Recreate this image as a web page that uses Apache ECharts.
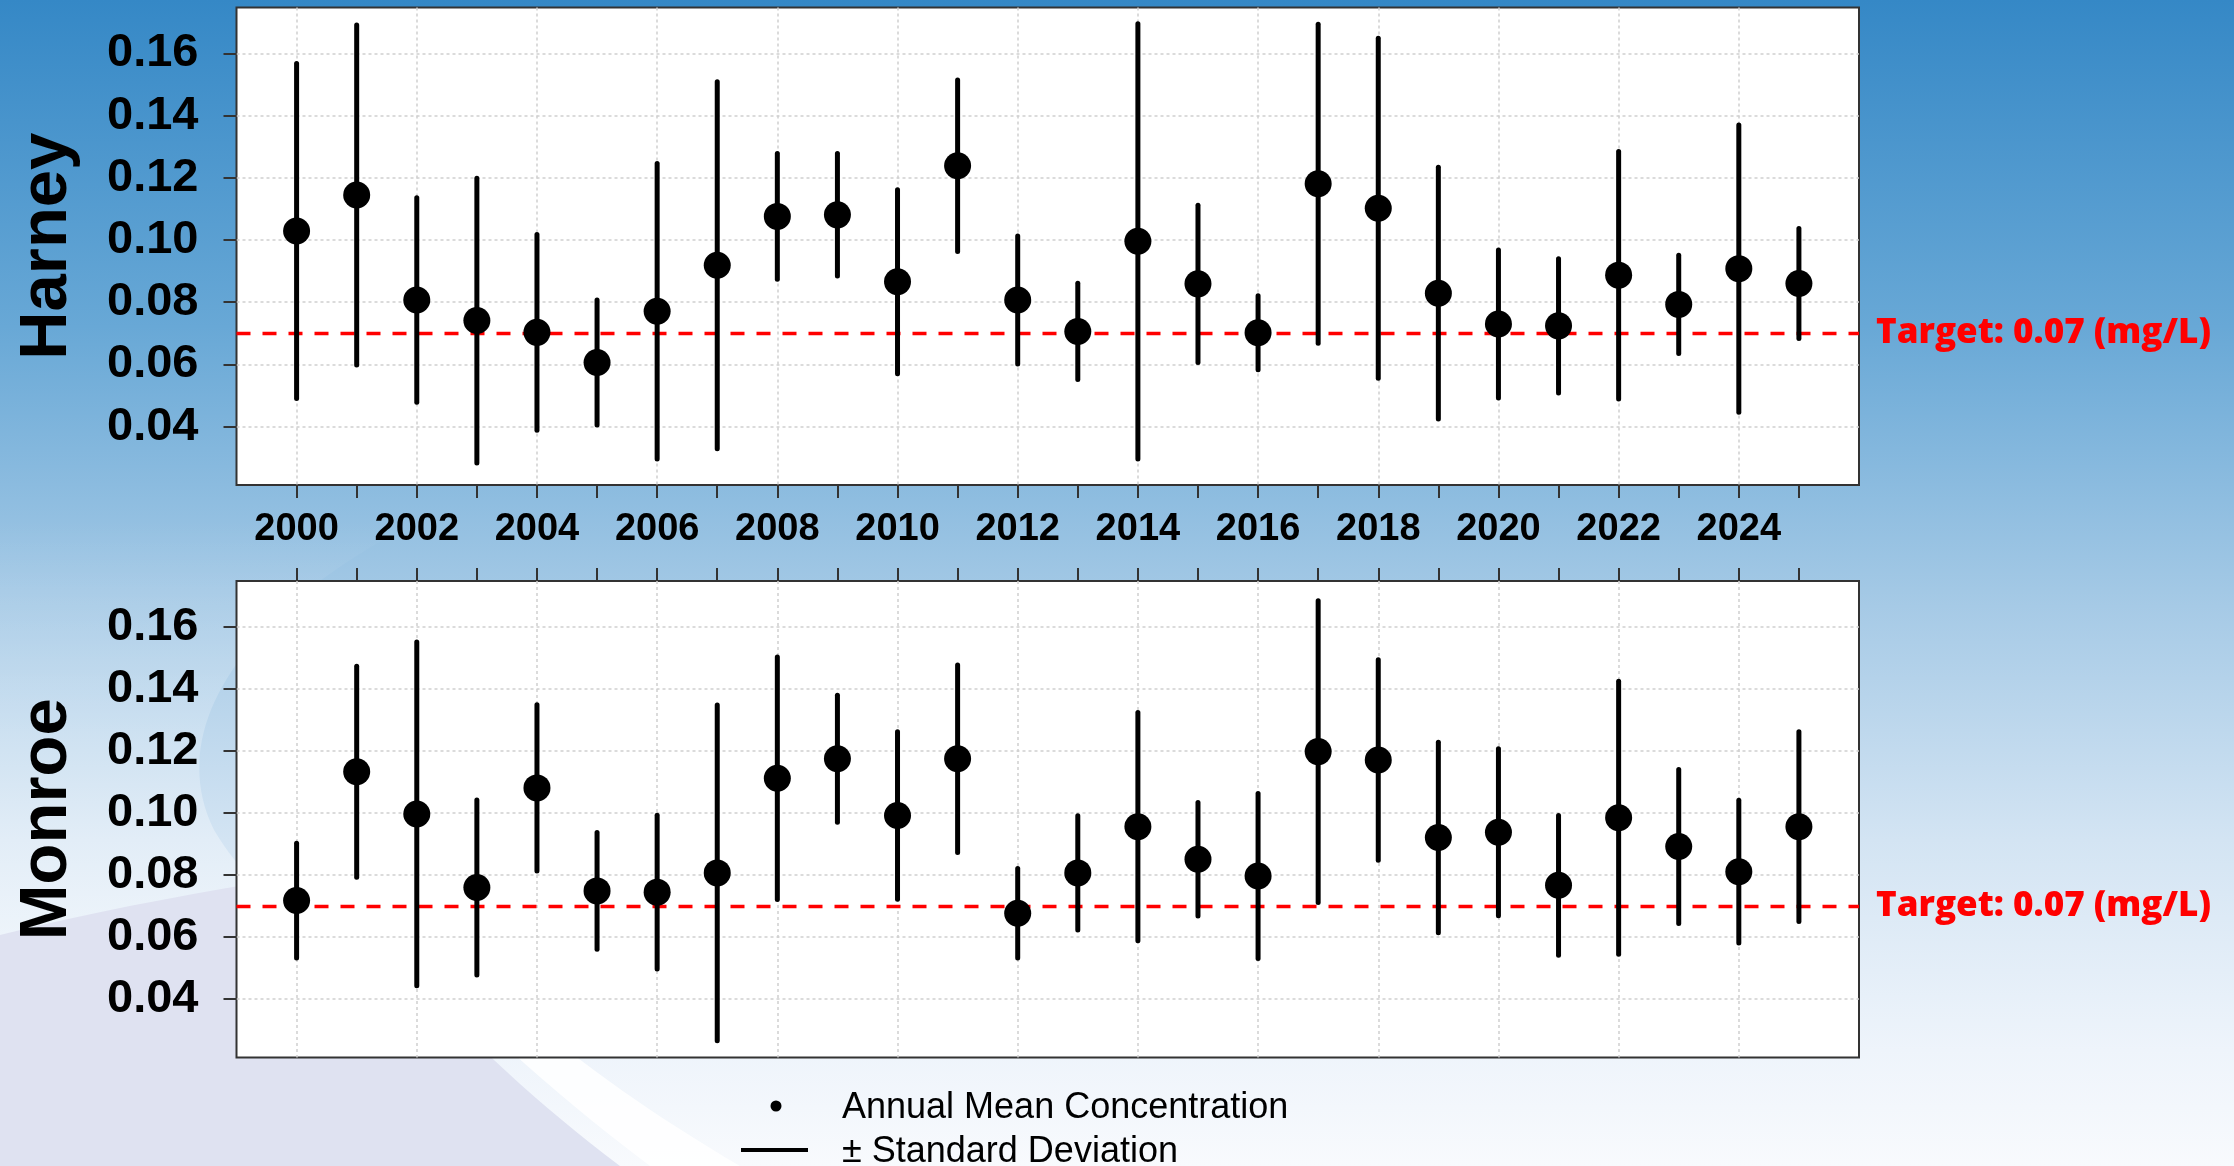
<!DOCTYPE html>
<html>
<head>
<meta charset="utf-8">
<script src="https://cdn.jsdelivr.net/npm/echarts@6/dist/echarts.min.js"></script>
<style>
  html, body { margin: 0; padding: 0; width: 2234px; height: 1166px; overflow: hidden; }
  #bg, #chart { position: absolute; left: 0; top: 0; width: 2234px; height: 1166px; }
</style>
</head>
<body>
<!-- slide backdrop -->
<svg id="bg" width="2234" height="1166" viewBox="0 0 2234 1166">
  <defs>
    <linearGradient id="sky" x1="0" y1="0" x2="0" y2="1">
      <stop offset="0" stop-color="#3588c6"/>
      <stop offset="0.28" stop-color="#68a8d6"/>
      <stop offset="0.52" stop-color="#a6cae6"/>
      <stop offset="0.72" stop-color="#d3e4f3"/>
      <stop offset="0.9" stop-color="#eef4fb"/>
      <stop offset="1" stop-color="#f8fafd"/>
    </linearGradient>
    <linearGradient id="glow" x1="0" y1="0" x2="0" y2="1">
      <stop offset="0" stop-color="#ffffff" stop-opacity="0"/>
      <stop offset="1" stop-color="#ffffff" stop-opacity="0.45"/>
    </linearGradient>
  </defs>
  <rect width="2234" height="1166" fill="url(#sky)"/>
  <path d="M420,520 C260,600 160,720 214,830 C250,890 300,930 340,870 L340,940 L0,940 L0,520 Z" fill="url(#glow)"/>
  <path d="M0,935 C120,905 240,885 340,870 C390,960 480,1060 620,1166 L0,1166 Z" fill="#dfe2f1"/>
  <path d="M340,870 C410,960 510,1060 650,1166 L740,1166 C560,1060 450,960 400,860 Z" fill="#ffffff" opacity="0.85"/>
</svg>
<div id="chart"></div>
<script>
// Annual mean concentration (mg/L) and standard deviation, 2000-2025
const years = [2000, 2001, 2002, 2003, 2004, 2005, 2006, 2007, 2008, 2009, 2010, 2011, 2012,
               2013, 2014, 2015, 2016, 2017, 2018, 2019, 2020, 2021, 2022, 2023, 2024, 2025];
const yearLabels = [2000, 2002, 2004, 2006, 2008, 2010, 2012, 2014, 2016, 2018, 2020, 2022, 2024];
const concTicks = [0.04, 0.06, 0.08, 0.10, 0.12, 0.14, 0.16];
const targetValue = 0.07;

const harneyMean = [0.1029, 0.1145, 0.0807, 0.0741, 0.0703, 0.0606, 0.0771, 0.0919, 0.1076, 0.1081,
                    0.0866, 0.1239, 0.0807, 0.0706, 0.0996, 0.0859, 0.0702, 0.1181, 0.1102, 0.0829,
                    0.0730, 0.0724, 0.0887, 0.0793, 0.0908, 0.0860];
const harneySd   = [0.0539, 0.0547, 0.0329, 0.0458, 0.0315, 0.0201, 0.0475, 0.0590, 0.0202, 0.0197,
                    0.0296, 0.0276, 0.0206, 0.0155, 0.0700, 0.0253, 0.0119, 0.0513, 0.0547, 0.0405,
                    0.0238, 0.0216, 0.0398, 0.0158, 0.0462, 0.0177];

const monroeMean = [0.0718, 0.1133, 0.0997, 0.0760, 0.1081, 0.0749, 0.0745, 0.0807, 0.1112, 0.1175,
                    0.0992, 0.1175, 0.0677, 0.0807, 0.0956, 0.0851, 0.0797, 0.1198, 0.1171, 0.0921,
                    0.0938, 0.0767, 0.0985, 0.0892, 0.0811, 0.0956];
const monroeSd   = [0.0185, 0.0340, 0.0554, 0.0282, 0.0268, 0.0188, 0.0248, 0.0541, 0.0391, 0.0205,
                    0.0270, 0.0302, 0.0144, 0.0184, 0.0368, 0.0183, 0.0266, 0.0486, 0.0323, 0.0307,
                    0.0269, 0.0225, 0.0440, 0.0248, 0.0230, 0.0306];

const panels = [
  { name: 'Harney', mean: harneyMean, sd: harneySd },
  { name: 'Monroe', mean: monroeMean, sd: monroeSd }
];

const AXIS_FONT = '"Liberation Sans", Arial, sans-serif';
const Y_MIN = 0.0212, Y_MAX = 0.1748;

const gridLine = { show: true, lineStyle: { color: '#cfcfcf', width: 1.5, type: [3, 3] } };
const tickStyle = { color: '#333', width: 2 };

const grids = [
  { left: 236.5, top: 7.5, width: 1622.5, height: 477.5 },
  { left: 236.5, top: 581, width: 1622.5, height: 476.5 }
].map(g => Object.assign(g, {
  show: true, backgroundColor: '#ffffff', borderColor: '#333333', borderWidth: 2, containLabel: false
}));

const xAxes = [];
const yAxes = [];
const series = [];

panels.forEach((p, k) => {
  // year ticks (labels only under the upper panel, ticks above the lower one)
  xAxes.push({
    gridIndex: k, type: 'value', min: 1999, max: 2026,
    position: k === 0 ? 'bottom' : 'top',
    axisLine: { show: false },
    axisTick: { show: true, inside: false, length: 13, lineStyle: tickStyle, customValues: years },
    axisLabel: {
      show: k === 0, customValues: yearLabels, margin: 26,
      fontFamily: AXIS_FONT, fontWeight: 'bold', fontSize: 38, color: '#000',
      formatter: v => String(v)
    },
    splitLine: { show: false }
  });
  // vertical guide lines at even years
  xAxes.push({
    gridIndex: k, type: 'value', min: 1999, max: 2026,
    position: k === 0 ? 'top' : 'bottom',
    axisLine: { show: false },
    axisTick: { show: false, customValues: yearLabels },
    axisLabel: { show: false },
    splitLine: gridLine
  });
  yAxes.push({
    gridIndex: k, type: 'value', min: Y_MIN, max: Y_MAX,
    axisLine: { show: false },
    axisTick: { show: true, inside: false, length: 13, lineStyle: tickStyle, customValues: concTicks },
    axisLabel: {
      customValues: concTicks, margin: 38, padding: [5, 0, 0, 0],
      fontFamily: AXIS_FONT, fontWeight: 'bold', fontSize: 47, color: '#000',
      formatter: v => v.toFixed(2)
    },
    splitLine: gridLine,
    name: p.name, nameLocation: 'middle', nameRotate: 90, nameGap: 155,
    nameTextStyle: { fontFamily: AXIS_FONT, fontWeight: 'bold', fontSize: 67, color: '#000' }
  });

  // ± standard deviation bars
  series.push({
    type: 'custom', xAxisIndex: 2 * k, yAxisIndex: k, z: 3,
    data: years.map((yr, i) => [yr, p.mean[i] - p.sd[i], p.mean[i] + p.sd[i]]),
    encode: { x: 0, y: [1, 2] },
    renderItem: (params, api) => {
      const lo = api.coord([api.value(0), api.value(1)]);
      const hi = api.coord([api.value(0), api.value(2)]);
      return {
        type: 'line',
        shape: { x1: lo[0], y1: lo[1], x2: hi[0], y2: hi[1] },
        style: { stroke: '#000', lineWidth: 5, lineCap: 'round' }
      };
    }
  });

  // annual means, with the target line
  series.push({
    type: 'scatter', xAxisIndex: 2 * k, yAxisIndex: k, z: 4,
    symbol: 'circle', symbolSize: 27,
    itemStyle: { color: '#000', opacity: 1 },
    data: years.map((yr, i) => [yr, p.mean[i]]),
    markLine: {
      silent: true, symbol: 'none', z: 2,
      lineStyle: { color: '#ff0000', width: 3.3, type: [14, 12] },
      label: {
        show: true, position: 'end', distance: 17,
        formatter: 'Target: ' + targetValue.toFixed(2) + ' (mg/L)',
        fontFamily: '"Open Sans", "Noto Sans", sans-serif', fontWeight: 800, fontSize: 35, color: '#ff0000'
      },
      data: [{ yAxis: targetValue }]
    }
  });
});

const chart = echarts.init(document.getElementById('chart'), null, { renderer: 'canvas' });
chart.setOption({
  animation: false,
  backgroundColor: 'transparent',
  grid: grids,
  xAxis: xAxes,
  yAxis: yAxes,
  series: series,
  graphic: [
    { type: 'circle', shape: { cx: 776, cy: 1106, r: 5.5 }, style: { fill: '#000' } },
    { type: 'text', x: 842, y: 1108,
      style: { text: 'Annual Mean Concentration', font: '36px "Liberation Sans", Arial, sans-serif',
               fill: '#000', verticalAlign: 'middle' } },
    { type: 'line', shape: { x1: 741, y1: 1150, x2: 808, y2: 1150 },
      style: { stroke: '#000', lineWidth: 4 } },
    { type: 'text', x: 842, y: 1152,
      style: { text: '± Standard Deviation', font: '36px "Liberation Sans", Arial, sans-serif',
               fill: '#000', verticalAlign: 'middle' } }
  ]
});
</script>
</body>
</html>
